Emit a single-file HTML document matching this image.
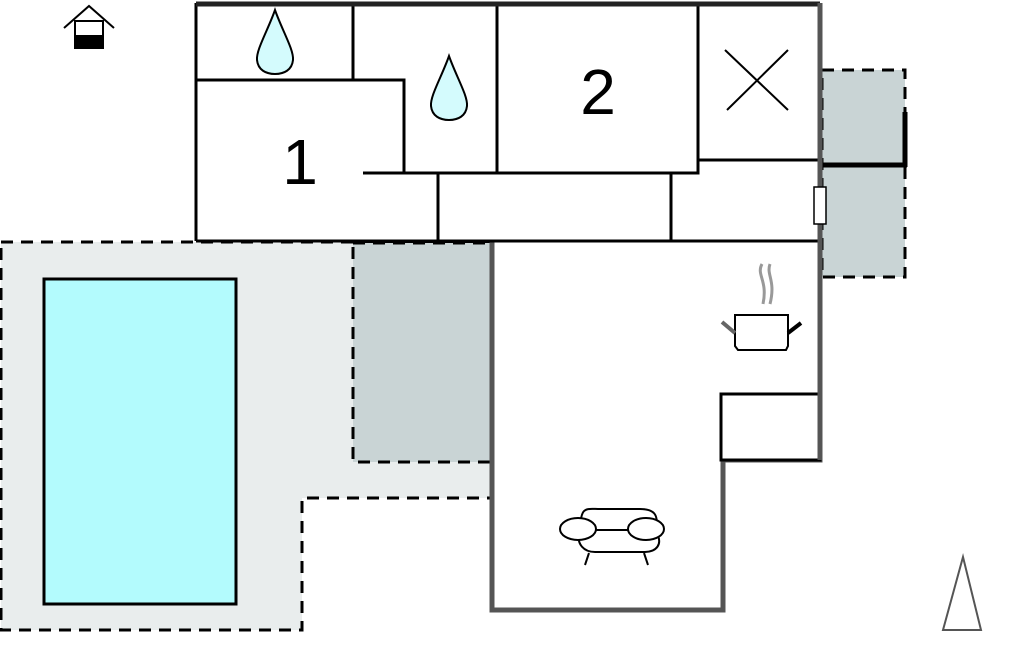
<!DOCTYPE html>
<html><head><style>body{margin:0;background:#fff}</style></head><body>
<svg width="1011" height="652" viewBox="0 0 1011 652" xmlns="http://www.w3.org/2000/svg" font-family="Liberation Sans, sans-serif">
<!-- terrace -->
<path d="M1,242 H492 V498 H302 V630 H1 Z" fill="#e9eded" stroke="#000" stroke-width="3" stroke-dasharray="12,8"/>
<rect x="44" y="279" width="192" height="325" fill="#b3fbfd" stroke="#000" stroke-width="3"/>
<rect x="353" y="243" width="139" height="219" fill="#c9d4d5" stroke="#000" stroke-width="3" stroke-dasharray="12,8"/>
<!-- right dashed -->
<rect x="822" y="70" width="83" height="207" fill="#c9d4d5" stroke="#000" stroke-width="3" stroke-dasharray="12,8"/>
<line x1="905" y1="112" x2="905" y2="167" stroke="#000" stroke-width="5"/>
<line x1="820" y1="165" x2="907" y2="165" stroke="#000" stroke-width="5"/>
<!-- building -->
<rect x="196" y="3" width="624" height="238" fill="#fff"/>
<path d="M492,241 V610 H723 V460 H820 V241" fill="#fff" stroke="#555" stroke-width="5"/>
<rect x="721" y="394" width="99" height="66" fill="#fff" stroke="#000" stroke-width="3"/>
<g stroke="#000" stroke-width="3" fill="none">
<path d="M196,241 V3"/>
<path d="M196,241 H820"/>
<path d="M353,3 V80 M196,80 H404 V173 M363,173 H698 V160 H820 M497,3 V173 M698,3 V160 M438,173 V241 M671,173 V241"/>
</g>
<line x1="196" y1="4" x2="820" y2="4" stroke="#222" stroke-width="5"/>
<line x1="820" y1="3" x2="820" y2="460" stroke="#555" stroke-width="5"/>
<rect x="814" y="187" width="12" height="37" fill="#fff" stroke="#000" stroke-width="1.5"/>
<!-- labels -->
<text x="300" y="184" font-size="64" text-anchor="middle">1</text>
<text x="598" y="114" font-size="64" text-anchor="middle">2</text>
<path d="M725,50 L788,110 M788,50 L727,110" stroke="#000" stroke-width="2"/>
<!-- drops -->
<path d="M275,10 C268,30 256,50 257,60 C258,70 266,74 275,74 C284,74 292,70 293,60 C294,50 282,30 275,10 Z" fill="#d4fbfd" stroke="#000" stroke-width="2"/>
<path d="M449,56 C442,76 430,96 431,106 C432,116 440,120 449,120 C458,120 466,116 467,106 C468,96 456,76 449,56 Z" fill="#d4fbfd" stroke="#000" stroke-width="2"/>
<!-- pot -->
<g fill="none">
<path d="M762,264 C756,275 768,280 763,304 M770,264 C766,275 776,280 770,304" stroke="#999" stroke-width="3"/>
<path d="M735,315 H788 V346 L786,350 H738 L735,346 Z" stroke="#000" stroke-width="2" fill="#fff"/>
<path d="M722,322 L735,333" stroke="#666" stroke-width="4"/>
<path d="M788,333 L801,323" stroke="#000" stroke-width="4"/>
</g>
<!-- sofa -->
<g fill="#fff" stroke="#000" stroke-width="2">
<path d="M580,535 C580,505 585,509 600,509 H640 C655,509 660,515 655,535 Z"/>
<path d="M580,530 C575,545 585,552 595,552 H645 C655,552 665,545 655,530 Z"/>
<ellipse cx="578" cy="529" rx="18" ry="11"/>
<ellipse cx="646" cy="529" rx="18" ry="11"/>
<path d="M589,553 L585,565 M644,553 L648,565"/>
</g>
<!-- house icon -->
<path d="M64,28 L89,6 L114,28" fill="none" stroke="#000" stroke-width="2"/>
<rect x="75" y="21" width="28" height="27" fill="#fff" stroke="#000" stroke-width="2"/>
<rect x="75" y="35" width="28" height="13" fill="#000"/>
<!-- north -->
<path d="M963,557 L981,630 H943 Z" fill="#fff" stroke="#555" stroke-width="2"/>
</svg>
</body></html>
